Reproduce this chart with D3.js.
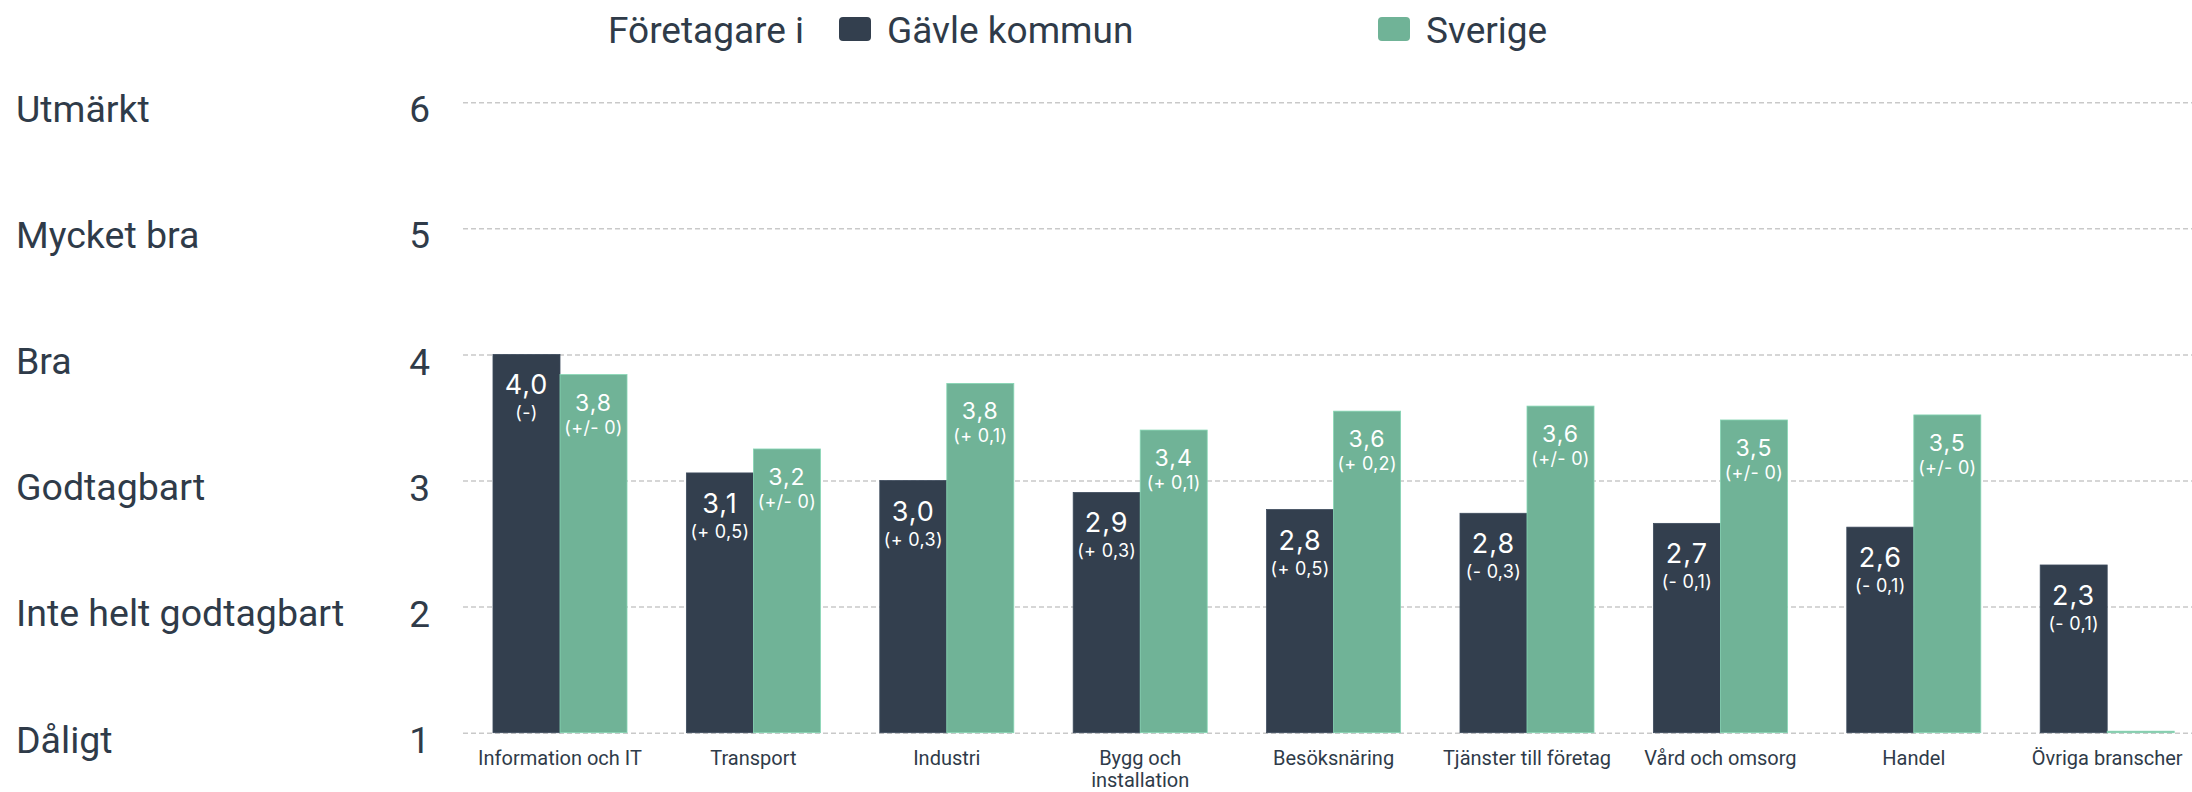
<!DOCTYPE html>
<html>
<head>
<meta charset="utf-8">
<script src="https://cdn.jsdelivr.net/npm/d3@7"></script>
<style>
  body { margin: 0; background: #fff; }
  svg { display: block; }
</style>
</head>
<body>
<svg id="chart"></svg>
<script>
// branscher
const categories = ["Information och IT", "Transport", "Industri", "Bygg och\ninstallation",
  "Besöksnäring", "Tjänster till företag", "Vård och omsorg", "Handel", "Övriga branscher"];

// betyg, Gävle kommun och Sverige
const gavle = [4.0, 3.06, 3.0, 2.905, 2.77, 2.74, 2.66, 2.63, 2.33];
const sverige = [3.84, 3.25, 3.77, 3.40, 3.55, 3.59, 3.48, 3.52, 1.0];

const gavleLabels = ["4,0", "3,1", "3,0", "2,9", "2,8", "2,8", "2,7", "2,6", "2,3"];
const gavleChange = ["(-)", "(+ 0,5)", "(+ 0,3)", "(+ 0,3)", "(+ 0,5)", "(- 0,3)", "(- 0,1)", "(- 0,1)", "(- 0,1)"];
const sverigeLabels = ["3,8", "3,2", "3,8", "3,4", "3,6", "3,6", "3,5", "3,5", null];
const sverigeChange = ["(+/- 0)", "(+/- 0)", "(+ 0,1)", "(+ 0,1)", "(+ 0,2)", "(+/- 0)", "(+/- 0)", "(+/- 0)", null];

const yTicks = [1, 2, 3, 4, 5, 6];
const ratingLabels = ["Dåligt", "Inte helt godtagbart", "Godtagbart", "Bra", "Mycket bra", "Utmärkt"];

const seriesNames = ["Gävle kommun", "Sverige"];

const W = 2192, H = 792;
const dark = "#333f4e", green = "#70b397", textColor = "#2f3b49";

let svg = d3.select("#chart")
  .attr("width", W)
  .attr("height", H)
  .style("font-family", "Roboto, sans-serif");

let x0 = d3.scaleBand()
  .domain(categories)
  .range([463.3, 2203.9])
  .paddingInner(0.307)
  .paddingOuter(0.1535);

let x1 = d3.scaleBand()
  .domain(seriesNames)
  .range([0, x0.bandwidth()]);

let y = d3.scaleLinear()
  .domain([1, 6])
  .range([732.7, 102.2]);

// gridlines
let grid = svg.append("g")
  .attr("transform", `translate(463,0)`)
  .call(d3.axisRight(y).tickValues(yTicks).tickSize(W - 463).tickFormat(""));
grid.select(".domain").remove();
grid.selectAll("line")
  .attr("stroke", "#c9c9c9")
  .attr("stroke-width", 1.5)
  .attr("stroke-dasharray", "5,3");

// y axis numbers
let yAxis = svg.append("g")
  .attr("transform", `translate(463,0)`)
  .call(d3.axisLeft(y).tickValues(yTicks).tickSize(0).tickPadding(33).tickFormat(d3.format("d")));
yAxis.select(".domain").remove();
yAxis.selectAll("text")
  .attr("dy", "0.53em")
  .attr("fill", textColor)
  .style("font-size", "37px")
  .style("font-family", "Roboto, sans-serif");

// rating words
svg.append("g").selectAll("text")
  .data(yTicks)
  .join("text")
  .attr("x", 16)
  .attr("y", d => y(d))
  .attr("dy", "0.53em")
  .attr("fill", textColor)
  .style("font-size", "37.5px")
  .text((d, i) => ratingLabels[i]);

// bars
let rows = categories.map((c, i) => ({
  cat: c,
  vals: [
    { key: "Gävle kommun", v: gavle[i], label: gavleLabels[i], change: gavleChange[i] },
    { key: "Sverige", v: sverige[i], label: sverigeLabels[i], change: sverigeChange[i] }
  ]
}));

let color = d3.scaleOrdinal().domain(seriesNames).range([dark, green]);

let groups = svg.append("g").selectAll("g")
  .data(rows)
  .join("g")
  .attr("transform", d => `translate(${x0(d.cat)},0)`);

groups.selectAll("rect")
  .data(d => d.vals)
  .join("rect")
  .attr("x", d => x1(d.key))
  .attr("y", d => Math.min(y(d.v), y(1) - 1.5))
  .attr("width", x1.bandwidth())
  .attr("height", d => Math.max(1.5, y(1) - y(d.v)))
  .attr("fill", d => color(d.key))
  .attr("stroke", d => d3.color(color(d.key)).brighter(0.5))
  .attr("stroke-width", 0.8);

let labelled = groups.selectAll("g.lbl")
  .data(d => d.vals.filter(v => v.label))
  .join("g")
  .attr("class", "lbl")
  .attr("transform", d => `translate(${x1(d.key) + x1.bandwidth() / 2},${y(d.v)})`)
  .attr("fill", "#fff")
  .attr("text-anchor", "middle")
  .style("font-family", "Inter, sans-serif");

labelled.append("text")
  .attr("y", d => d.key === "Sverige" ? 36 : 40)
  .style("font-size", d => d.key === "Sverige" ? "23px" : "27px")
  .style("letter-spacing", "1px")
  .text(d => d.label);

labelled.append("text")
  .attr("y", d => d.key === "Sverige" ? 59 : 65)
  .style("font-size", "18px")
  .style("letter-spacing", "0.3px")
  .text(d => d.change);

// x axis
let xAxis = svg.append("g")
  .attr("transform", `translate(0,${y(1)})`)
  .call(d3.axisBottom(x0).tickSize(0).tickPadding(18));
xAxis.select(".domain").remove();
xAxis.selectAll("text")
  .attr("fill", textColor)
  .style("font-size", "20px")
  .style("font-family", "Roboto, sans-serif")
  .each(function (d) {
    let t = d3.select(this);
    let lines = d.split("\n");
    t.text(null);
    lines.forEach((line, i) => {
      t.append("tspan")
        .attr("x", 0)
        .attr("dy", i === 0 ? "0.71em" : "1.12em")
        .text(line);
    });
  });

// legend
let legend = svg.append("g")
  .style("font-size", "37px")
  .attr("fill", textColor);

legend.append("text")
  .attr("x", 608)
  .attr("y", 43)
  .text("Företagare i");

const legendX = [839, 1378];
seriesNames.forEach((s, i) => {
  legend.append("rect")
    .attr("x", legendX[i])
    .attr("y", 17)
    .attr("width", 32)
    .attr("height", 24)
    .attr("rx", 4)
    .attr("fill", color(s));
  legend.append("text")
    .attr("x", legendX[i] + 48)
    .attr("y", 43)
    .text(s);
});
</script>
</body>
</html>
